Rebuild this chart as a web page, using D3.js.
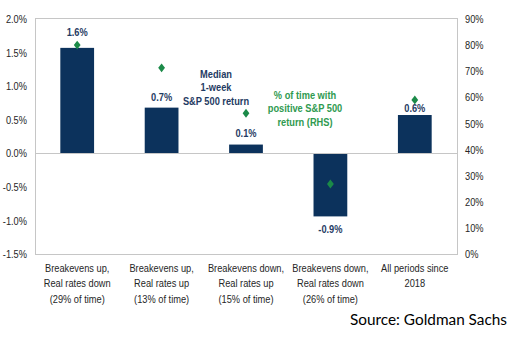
<!DOCTYPE html>
<html>
<head>
<meta charset="utf-8">
<script src="https://cdn.jsdelivr.net/npm/d3@7"></script>
<style>
  html, body { margin: 0; padding: 0; background: #fff; }
  svg { display: block; }
  text { font-family: "Liberation Sans", Arial, sans-serif; }
</style>
</head>
<body>
<svg id="chart" width="523" height="345"></svg>
<script>
// Regime categories (multi-line labels)
const categories = [
  ["Breakevens up,", "Real rates down", "(29% of time)"],
  ["Breakevens up,", "Real rates up", "(13% of time)"],
  ["Breakevens down,", "Real rates up", "(15% of time)"],
  ["Breakevens down,", "Real rates down", "(26% of time)"],
  ["All periods since", "2018"]
];
// Median 1-week S&P 500 return (left axis)
const medianReturn = [0.0157, 0.0068, 0.0013, -0.0094, 0.0057];
// % of time with positive S&P 500 return (right axis)
const pctPositive = [0.80, 0.713, 0.539, 0.268, 0.59];
// Tick values
const leftTicks = [-0.015, -0.01, -0.005, 0, 0.005, 0.01, 0.015, 0.02];
const rightTicks = [0, 0.1, 0.2, 0.3, 0.4, 0.5, 0.6, 0.7, 0.8, 0.9];

const svg = d3.select("#chart");
const m = { left: 35, right: 457, top: 19, bottom: 254 };

// Condensed look: glyphs are squeezed horizontally
const SX = 0.82;
const FS = 11.3;

const pct1 = v => d3.format(".1%")(v).replace("\u2212", "-");
const pct0 = v => d3.format(".0%")(v);

const x = d3.scaleBand()
  .domain(d3.range(categories.length))
  .range([m.left, m.right])
  .paddingInner(0.6)
  .paddingOuter(0.3);

const yL = d3.scaleLinear().domain([-0.015, 0.02]).range([m.bottom, m.top]);
const yR = d3.scaleLinear().domain([0, 0.9]).range([m.bottom, m.top]);

const navy = "#0c325c";
const green = "#1b8a48";
const grey = "#c6c6c6";
const labelColor = "#262626";

// Plot frame
svg.append("rect")
  .attr("x", m.left + 0.5).attr("y", m.top - 0.5)
  .attr("width", m.right - m.left).attr("height", m.bottom - m.top + 1)
  .attr("fill", "none").attr("stroke", grey).attr("stroke-width", 1);

// Squeeze axis tick text around its own anchor
function condenseTicks(g) {
  g.selectAll("text").each(function () {
    const t = d3.select(this);
    const x0 = +t.attr("x") || 0;
    t.attr("x", x0 / SX).attr("transform", `scale(${SX},1)`)
      .attr("font-size", FS).attr("fill", labelColor).attr("font-family", null);
  });
}

// Left axis
const axL = svg.append("g")
  .attr("transform", `translate(${m.left},0)`)
  .call(d3.axisLeft(yL).tickValues(leftTicks).tickFormat(pct1).tickSize(0).tickPadding(8));
axL.select(".domain").remove();
condenseTicks(axL);

// Right axis
const axR = svg.append("g")
  .attr("transform", `translate(${m.right},0)`)
  .call(d3.axisRight(yR).tickValues(rightTicks).tickFormat(pct0).tickSize(0).tickPadding(8));
axR.select(".domain").remove();
condenseTicks(axR);

// Bars
svg.append("g").selectAll("rect")
  .data(medianReturn)
  .join("rect")
  .attr("x", (d, i) => x(i))
  .attr("width", x.bandwidth())
  .attr("y", d => Math.min(yL(d), yL(0)))
  .attr("height", d => Math.abs(yL(d) - yL(0)))
  .attr("fill", navy);

// Zero line
svg.append("line")
  .attr("x1", m.left).attr("x2", m.right)
  .attr("y1", Math.round(yL(0)) + 0.5).attr("y2", Math.round(yL(0)) + 0.5)
  .attr("stroke", grey).attr("stroke-width", 1);

// Value labels; extra offsets keep them clear of the diamonds
const labelGap = [12, 7, 8, 3, 3];
svg.append("g").selectAll("g")
  .data(medianReturn)
  .join("g")
  .attr("transform", (d, i) => {
    const cx = x(i) + x.bandwidth() / 2;
    const cy = d >= 0 ? yL(d) - labelGap[i] : yL(d) + labelGap[i] + 14;
    return `translate(${cx},${cy}) scale(${SX},1)`;
  })
  .append("text")
  .attr("text-anchor", "middle")
  .attr("font-size", FS)
  .attr("font-weight", "bold")
  .attr("fill", "#1f3b63")
  .text(d => pct1(d));

// Diamonds (right axis)
const diamond = d3.symbol().type(d3.symbolSquare).size(32);
svg.append("g").selectAll("path")
  .data(pctPositive)
  .join("path")
  .attr("d", diamond)
  .attr("transform", (d, i) => `translate(${x(i) + x.bandwidth() / 2},${yR(d)}) scale(0.85,1.1) rotate(45)`)
  .attr("fill", green);

// Category labels
const cat = svg.append("g").selectAll("g")
  .data(categories)
  .join("g")
  .attr("transform", (d, i) => `translate(${x(i) + x.bandwidth() / 2},272) scale(${SX},1)`)
  .append("text")
  .attr("text-anchor", "middle")
  .attr("font-size", FS)
  .attr("fill", labelColor);
cat.selectAll("tspan")
  .data(d => d)
  .join("tspan")
  .attr("x", 0)
  .attr("dy", (d, i) => i === 0 ? 0 : 15.3)
  .text(d => d);

// Annotations
const annotate = (lines, cx, y0, color) => {
  const t = svg.append("g")
    .attr("transform", `translate(${cx},${y0}) scale(${SX},1)`)
    .append("text")
    .attr("text-anchor", "middle")
    .attr("font-size", FS)
    .attr("font-weight", "bold")
    .attr("fill", color);
  t.selectAll("tspan").data(lines).join("tspan")
    .attr("x", 0).attr("dy", (d, i) => i === 0 ? 0 : 13.8)
    .text(d => d);
};
annotate(["Median", "1-week", "S&P 500 return"], 216, 77.5, "#1f3b63");
annotate(["% of time with", "positive S&P 500", "return (RHS)"], 305, 98.5, "#2f9a50");

// Source line
svg.append("text")
  .attr("x", 507).attr("y", 325)
  .attr("text-anchor", "end")
  .attr("font-size", 14.5)
  .attr("fill", "#000")
  .attr("textLength", 157)
  .attr("lengthAdjust", "spacingAndGlyphs")
  .style("font-family", "Lato, 'Open Sans', sans-serif")
  .text("Source: Goldman Sachs");
</script>
</body>
</html>
